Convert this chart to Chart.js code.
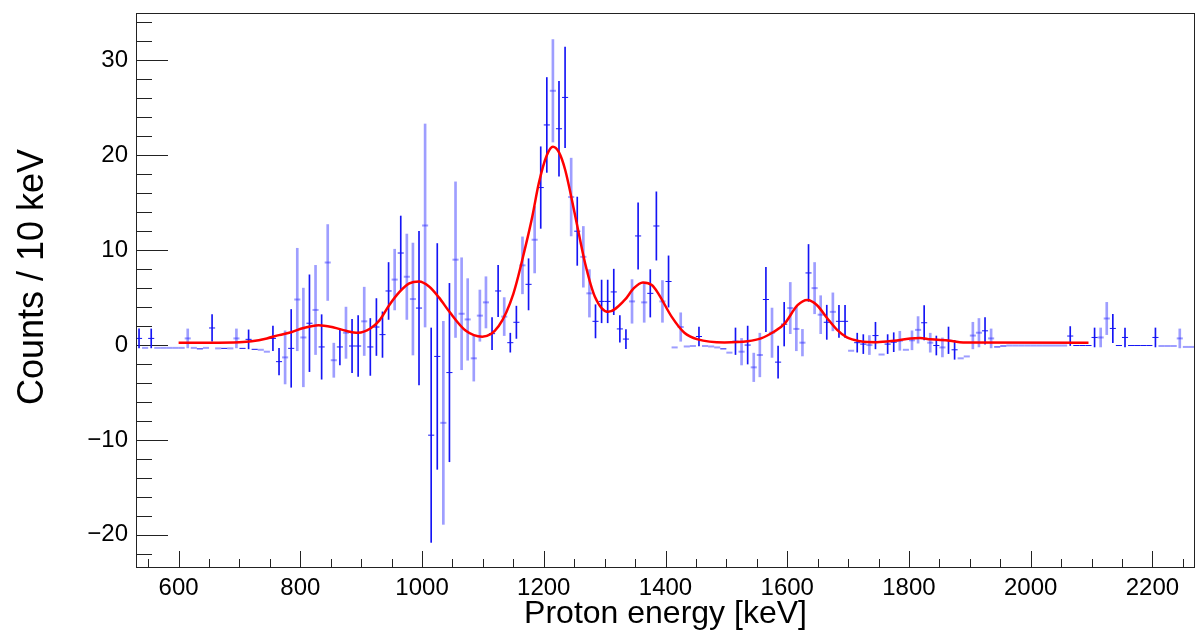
<!DOCTYPE html>
<html>
<head>
<meta charset="utf-8">
<script src="https://cdn.jsdelivr.net/npm/chart.js@4.4.0/dist/chart.umd.min.js"></script>
<style>
  html, body { margin: 0; padding: 0; background: #fff; }
</style>
</head>
<body>
<canvas id="spectrum" width="1201" height="635"></canvas>
<script>
// histogram binning (10 keV bins)
const histMin = 530;
const histMax = 2270;
const binWidth = 10;

// bin contents, one row = 100 keV, first bin centre 535 keV
const counts = [
  0.7, -0.3, 0.7, -0.3, -0.3, -0.3, -0.3, -0.3, 0.7, -0.3,
  -0.4, -0.3, 1.8, -0.35, -0.35, -0.35, 0.7, -0.35, 0.6, -0.45,
  -0.5, -0.7, 0.7, -1.75, -1.3, -0.35, 4.8, 0.8, 2.3, 3.7,
  -0.2, 8.7, -1.6, -0.2, 1.3, -0.1, -0.1, 2.5, -0.2, 1.9,
  1.1, 5.7, 6.9, 9.7, 7.2, 4.85, 3.9, 12.6, -9.5, -1.2,
  -8.2, -2.9, 9.0, 3.3, 2.7, -1.4, 3.1, 4.5, 1.2, 5.7,
  3.0, 0.25, 2.4, 8.4, 6.4, 11.1, 16.6, 23.2, 26.8, 22.8,
  26.1, 15.6, 12.0, 9.3, 5.45, 2.5, 4.6, 4.6, 5.6, 1.7,
  0.63, 4.6, 11.5, 4.5, 5.45, 12.55, 4.6, 6.7, -0.25, 1.9,
  -0.15, -0.1, 0.9, -0.1, -0.15, -0.25, -0.4, -0.8, 0.4, -0.7,
  0.0, -2.35, -1.05, 4.8, 1.3, -1.8, 2.2, 3.9, 1.7, 0.25,
  7.6, 6.0, 3.2, 2.4, 3.5, 2.5, 2.5, -0.6, 0.25, 0.1,
  0.0, 1.0, -1.0, 0.1, 0.3, 0.45, -0.5, 0.5, 1.6, 2.35,
  0.25, -0.05, -0.25, 0.5, -0.5, -1.4, -1.2, 1.0, 1.3, 1.5,
  0.7, -0.2, -0.1, -0.05, -0.05, -0.05, -0.05, -0.05, -0.05, -0.05,
  -0.05, -0.05, -0.05, 0.95, -0.05, -0.05, -0.05, 0.8, 0.8, 2.8,
  1.75, -0.05, 0.8, -0.05, -0.05, -0.05, -0.05, 0.8, -0.1, -0.1,
  -0.1, 0.7, -0.2, -0.2
];

const errors = [
  1.0, 0, 1.0, 0, 0, 0, 0, 0, 1.0, 0,
  0, 0, 1.4, 0, 0, 0, 1.0, 0, 1.0, 0,
  0, 0, 1.3, 1.4, 2.8, 4.1, 5.4, 5.2, 5.1, 4.7,
  3.4, 4.0, 1.8, 1.9, 2.7, 2.8, 3.2, 3.6, 3.0, 3.0,
  2.4, 3.0, 3.2, 3.9, 4.5, 5.9, 8.1, 10.7, 11.3, 11.9,
  10.7, 9.4, 8.2, 5.9, 4.3, 2.4, 2.7, 2.7, 1.7, 2.7,
  2.0, 1.0, 1.7, 3.0, 2.7, 3.5, 4.3, 5.0, 5.4, 5.0,
  5.3, 4.1, 3.6, 3.2, 2.5, 1.75, 2.25, 2.25, 2.4, 1.4,
  1.0, 2.3, 3.5, 2.1, 2.5, 3.6, 2.2, 2.7, 0, 1.5,
  0, 0, 1.0, 0, 0, 0, 0, 0, 1.4, 1.4,
  2.0, 1.5, 2.3, 3.4, 2.6, 1.7, 2.3, 2.7, 2.3, 1.4,
  3.0, 2.7, 2.0, 1.8, 2.0, 1.7, 1.7, 0, 1.0, 1.0,
  1.0, 1.4, 0, 1.0, 1.0, 1.0, 0, 1.0, 1.4, 1.8,
  1.0, 1.0, 1.0, 1.4, 1.0, 0, 0, 1.4, 1.5, 1.4,
  1.0, 0, 0, 0, 0, 0, 0, 0, 0, 0,
  0, 0, 0, 1.0, 0, 0, 0, 1.0, 1.0, 1.7,
  1.5, 0, 1.0, 0, 0, 0, 0, 1.0, 0, 0,
  0, 1.0, 0, 0
];

// which histogram each bin belongs to: d = solid blue, l = faded blue
const runTag = [
  "dldlllllll", "dldldllddd", "llddldlldl", "dlldlddldd", "ddldlldldd",
  "ldlllllldd", "lddldlddld", "dldllddddd", "dldlddldll", "lldllldldl",
  "dlldlddlll", "dlldlddldd", "ldlddlllld", "ldlddlllld", "lddlllllll",
  "llldddddll", "ddddddddll", "llll"
].join("");

// fitted curve
const fitEnergy = [600, 650, 700, 720, 745, 765, 785, 805, 830, 855,
  875, 895, 915, 930, 946, 963, 979, 995, 1012, 1028,
  1045, 1072, 1099, 1126, 1150, 1170, 1181, 1192, 1205, 1215,
  1225, 1235, 1252, 1268, 1284, 1306, 1333, 1348, 1363, 1378,
  1388, 1410, 1431, 1453, 1497, 1535, 1557, 1578, 1595, 1617,
  1633, 1649, 1666, 1682, 1698, 1720, 1747, 1775, 1802, 1818,
  1835, 1867, 1889, 2095];
const fitCounts = [0.25, 0.25, 0.3, 0.4, 0.7, 1.05, 1.35, 1.8, 2.1, 1.85,
  1.5, 1.3, 1.75, 2.6, 4.2, 5.6, 6.5, 6.7, 6.15, 5.0,
  3.5, 1.5, 0.88, 2.0, 5.4, 10.4, 13.5, 17.1, 20.0, 20.9,
  20.3, 18.5, 13.5, 8.6, 5.1, 3.5, 4.75, 6.0, 6.6, 6.3,
  5.45, 3.0, 1.3, 0.6, 0.28, 0.4, 0.7, 1.4, 2.2, 4.2,
  4.75, 4.2, 2.8, 1.6, 0.8, 0.4, 0.3, 0.45, 0.7, 0.75,
  0.6, 0.45, 0.28, 0.25];

const xTickLabels = [600, 800, 1000, 1200, 1400, 1600, 1800, 2000, 2200];
const yTickLabels = [-20, -10, 0, 10, 20, 30];

const xTitle = "Proton energy [keV]";
const yTitle = "Counts / 10 keV";

const solid = "rgb(20, 20, 245)";
const faded = "rgba(40, 40, 255, 0.45)";

// split bins into the two histograms
const errBars = { d: [], l: [] };
const marks = { d: [], l: [] };
counts.forEach((v, i) => {
  const e = histMin + binWidth * (i + 0.5);
  const tag = runTag[i];
  marks[tag].push({ x: e, y: v });
  if (errors[i] > 0) errBars[tag].push({ x: e, y: [v - errors[i], v + errors[i]] });
});

const fitPoints = fitEnergy.map((e, i) => ({ x: e, y: fitCounts[i] }));

const font = '"Liberation Sans", Arial, sans-serif';

const rootFrame = {
  id: "rootFrame",
  beforeDatasetsDraw(chart) {
    const { ctx, chartArea: a, scales: { x, y } } = chart;
    ctx.save();
    ctx.strokeStyle = "#222";
    ctx.lineWidth = 1;
    ctx.beginPath();
    for (let v = -22; v <= 34; v += 2) {
      const py = Math.round(y.getPixelForValue(v)) + 0.5;
      const len = v % 10 === 0 ? 32 : 16;
      ctx.moveTo(a.left, py);
      ctx.lineTo(a.left + len, py);
    }
    for (let e = 550; e <= 2250; e += 50) {
      const px = Math.round(x.getPixelForValue(e)) + 0.5;
      const len = e % 200 === 0 ? 17 : 9;
      ctx.moveTo(px, a.bottom);
      ctx.lineTo(px, a.bottom - len);
    }
    ctx.stroke();
    ctx.restore();
  },
  afterDraw(chart) {
    const { ctx, chartArea: a } = chart;
    ctx.save();
    ctx.strokeStyle = "#222";
    ctx.lineWidth = 1;
    ctx.strokeRect(a.left + 0.5, a.top + 0.5, a.right - a.left - 1, a.bottom - a.top - 1);
    ctx.fillStyle = "#000";
    ctx.textAlign = "center";
    ctx.textBaseline = "middle";
    ctx.font = "32px " + font;
    ctx.fillText(xTitle, (a.left + a.right) / 2, 614);
    ctx.font = "36px " + font;
    ctx.translate(33, 277);
    ctx.rotate(-Math.PI / 2);
    ctx.fillText(yTitle, 0, 0);
    ctx.restore();
  }
};

new Chart(document.getElementById("spectrum"), {
  type: "bar",
  data: {
    datasets: [
      {
        type: "line",
        label: "fit",
        data: fitPoints,
        borderColor: "rgb(255, 0, 0)",
        borderWidth: 2.5,
        pointRadius: 0,
        cubicInterpolationMode: "monotone",
        fill: false,
        order: 0
      },
      {
        label: "run 1 errors",
        data: errBars.d,
        backgroundColor: solid,
        barThickness: 1,
        grouped: false,
        order: 1
      },
      {
        type: "scatter",
        label: "run 1",
        data: marks.d,
        pointStyle: "line",
        pointRadius: 3.05,
        borderColor: solid,
        borderWidth: 1,
        order: 1
      },
      {
        label: "run 2 errors",
        data: errBars.l,
        backgroundColor: faded,
        barThickness: 2,
        grouped: false,
        order: 2
      },
      {
        type: "scatter",
        label: "run 2",
        data: marks.l,
        pointStyle: "line",
        pointRadius: 3.05,
        borderColor: faded,
        borderWidth: 2,
        order: 2
      }
    ]
  },
  options: {
    responsive: false,
    animation: false,
    devicePixelRatio: 1,
    layout: { padding: { top: 13, right: 2, left: 0, bottom: 0 } },
    plugins: {
      legend: { display: false },
      tooltip: { enabled: false }
    },
    scales: {
      x: {
        type: "linear",
        min: histMin,
        max: histMax,
        offset: false,
        grid: { display: false, drawTicks: false },
        border: { display: false },
        afterFit: (s) => { s.height = 67; s.paddingLeft = 0; s.paddingRight = 0; },
        ticks: {
          stepSize: 200,
          includeBounds: false,
          maxRotation: 0,
          padding: 6,
          color: "#000",
          font: { family: font, size: 24 },
          callback: (v) => (xTickLabels.includes(v) ? String(v) : "")
        }
      },
      y: {
        min: -23.5,
        max: 35,
        grid: { display: false, drawTicks: false },
        border: { display: false },
        afterFit: (s) => { s.width = 136; s.paddingTop = 0; s.paddingBottom = 0; },
        ticks: {
          stepSize: 10,
          includeBounds: false,
          padding: 8,
          color: "#000",
          font: { family: font, size: 24 },
          callback: (v) => (yTickLabels.includes(v) ? String(v).replace("-", "\u2212") : "")
        }
      }
    }
  },
  plugins: [rootFrame]
});
</script>
</body>
</html>
